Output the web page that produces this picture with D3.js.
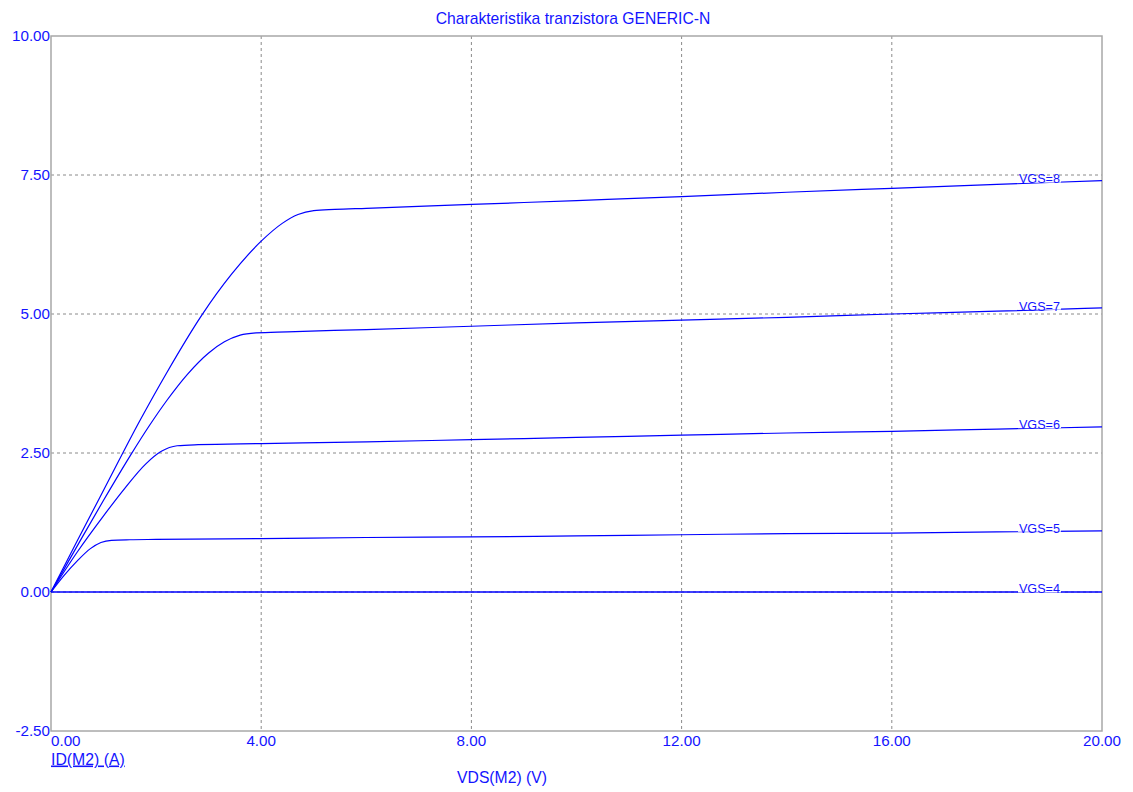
<!DOCTYPE html>
<html>
<head>
<meta charset="utf-8">
<script src="https://cdn.jsdelivr.net/npm/d3@7"></script>
<style>
  body { margin: 0; background: #fff; }
  text { font-family: Arial, "Liberation Sans", sans-serif; }
</style>
</head>
<body>
<div id="chart"></div>
<script>
// Output characteristics
const title = "Charakteristika tranzistora GENERIC-N";
const xLabel = "VDS(M2) (V)";
const yLabel = "ID(M2) (A)";

const xTicks = [0, 4, 8, 12, 16, 20];
const yTicks = [-2.5, 0, 2.5, 5, 7.5, 10];

const seriesNames = ["VGS=8", "VGS=7", "VGS=6", "VGS=5", "VGS=4"];

// [VDS, ID]
const vgs8 = [[0, 0], [0.5, 0.92], [1.0, 1.83], [1.69, 3.08], [2.2, 3.94], [2.87, 4.98], [3.44, 5.72],
  [4.0, 6.31], [4.4, 6.63], [4.7, 6.79], [5.0, 6.86], [5.4, 6.88], [6, 6.90], [8, 6.97], [10, 7.04],
  [12, 7.11], [14, 7.19], [16, 7.26], [18, 7.33], [20, 7.40]];
const vgs7 = [[0, 0], [0.5, 0.83], [1.0, 1.65], [1.5, 2.44], [1.87, 2.99], [2.2, 3.44], [2.6, 3.92],
  [3.0, 4.30], [3.3, 4.50], [3.6, 4.62], [3.9, 4.66], [4.5, 4.68], [6, 4.72], [8, 4.78], [10, 4.84],
  [12, 4.89], [14, 4.94], [16, 5.00], [18, 5.05], [20, 5.11]];
const vgs6 = [[0, 0], [0.5, 0.72], [1.0, 1.37], [1.4, 1.86], [1.8, 2.30], [2.1, 2.53], [2.4, 2.63],
  [2.8, 2.65], [4, 2.67], [6, 2.70], [8, 2.74], [10, 2.78], [12, 2.82], [14, 2.86], [16, 2.89], [18, 2.93], [20, 2.97]];
const vgs5 = [[0, 0], [0.25, 0.3], [0.5, 0.56], [0.75, 0.78], [0.95, 0.89], [1.15, 0.93], [1.5, 0.94],
  [2, 0.945], [4, 0.96], [6, 0.98], [8, 0.99], [10, 1.01], [12, 1.03], [14, 1.05], [16, 1.06], [18, 1.08], [20, 1.10]];
const vgs4 = [[0, 0], [5, 0], [10, 0], [15, 0], [20, 0]];

const seriesData = [vgs8, vgs7, vgs6, vgs5, vgs4];

const width = 1133, height = 792;
const margin = { top: 36, right: 31, bottom: 61, left: 51 };
const blue = "#1414ff";

const svg = d3.select("#chart").append("svg")
  .attr("width", width)
  .attr("height", height);

const x = d3.scaleLinear().domain([0, 20]).range([margin.left, width - margin.right]);
const y = d3.scaleLinear().domain([-2.5, 10]).range([height - margin.bottom, margin.top]);

// grid
const grid = svg.append("g");
grid.selectAll(".vgrid")
  .data(xTicks.slice(1, -1))
  .enter().append("line")
  .attr("x1", d => x(d)).attr("x2", d => x(d))
  .attr("y1", y(10)).attr("y2", y(-2.5))
  .attr("stroke", "#8a8a8a")
  .attr("stroke-dasharray", "3,3");
grid.selectAll(".hgrid")
  .data(yTicks.slice(1, -1))
  .enter().append("line")
  .attr("x1", x(0)).attr("x2", x(20))
  .attr("y1", d => y(d)).attr("y2", d => y(d))
  .attr("stroke", "#8a8a8a")
  .attr("stroke-dasharray", "3,3");

// frame
svg.append("rect")
  .attr("x", x(0)).attr("y", y(10))
  .attr("width", x(20) - x(0)).attr("height", y(-2.5) - y(10))
  .attr("fill", "none")
  .attr("stroke", "#a8a8a8")
  .attr("stroke-width", 1.5);

// curves
const line = d3.line()
  .x(d => x(d[0]))
  .y(d => y(d[1]))
  .curve(d3.curveMonotoneX);

svg.selectAll(".curve")
  .data(seriesData)
  .enter().append("path")
  .attr("d", line)
  .attr("fill", "none")
  .attr("stroke", "#0000ff")
  .attr("stroke-width", (d, i) => i === 4 ? 1.6 : 1.2);

// curve labels, sitting on the line with a white gap
const labelV = 18.42;
seriesData.forEach((s, i) => {
  const val = d3.scaleLinear().domain(s.map(p => p[0])).range(s.map(p => p[1]))(labelV + 0.8);
  const g = svg.append("g").attr("transform", `translate(${x(labelV)},${y(val) - 3})`);
  const t = g.append("text")
    .attr("dy", "0.35em")
    .attr("font-size", 12.6)
    .attr("fill", blue)
    .text(seriesNames[i]);
  const bb = t.node().getBBox();
  g.insert("rect", "text")
    .attr("x", bb.x - 1).attr("y", -3)
    .attr("width", bb.width + 2).attr("height", 6.5)
    .attr("fill", "#fff");
});

// tick labels
svg.selectAll(".ylab")
  .data(yTicks)
  .enter().append("text")
  .attr("x", x(0) - 1)
  .attr("y", d => y(d))
  .attr("dy", "0.35em")
  .attr("text-anchor", "end")
  .attr("font-size", 15.2)
  .attr("fill", blue)
  .text(d => d.toFixed(2));

svg.selectAll(".xlab")
  .data(xTicks)
  .enter().append("text")
  .attr("x", d => x(d))
  .attr("y", y(-2.5) + 10)
  .attr("dy", "0.35em")
  .attr("text-anchor", (d, i) => i === 0 ? "start" : "middle")
  .attr("font-size", 15.2)
  .attr("fill", blue)
  .text(d => d.toFixed(2));

// titles
svg.append("text")
  .attr("x", 573).attr("y", 19)
  .attr("dy", "0.35em")
  .attr("text-anchor", "middle")
  .attr("font-size", 15.7)
  .attr("fill", blue)
  .text(title);

svg.append("text")
  .attr("x", 502).attr("y", 778)
  .attr("dy", "0.35em")
  .attr("text-anchor", "middle")
  .attr("font-size", 15.7)
  .attr("fill", blue)
  .text(xLabel);

svg.append("text")
  .attr("x", x(0)).attr("y", 759)
  .attr("dy", "0.35em")
  .attr("font-size", 15.8)
  .attr("fill", blue)
  .attr("text-decoration", "underline")
  .text(yLabel);
</script>
</body>
</html>
